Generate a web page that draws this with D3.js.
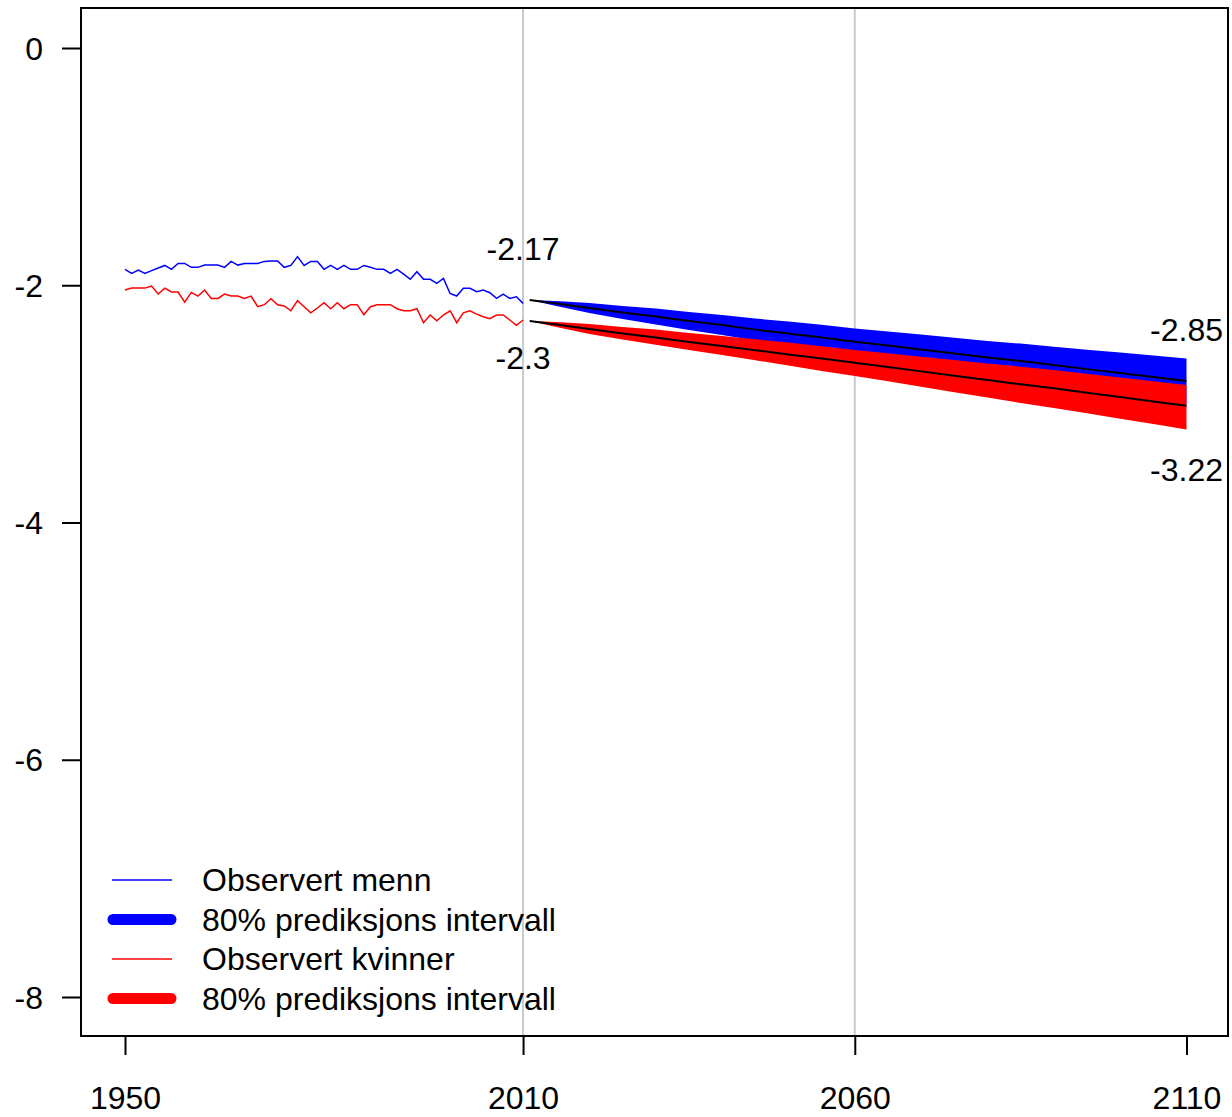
<!DOCTYPE html>
<html>
<head>
<meta charset="utf-8">
<script src="https://cdn.jsdelivr.net/npm/d3@7"></script>
<style>
  body { margin: 0; background: #fff; }
  svg text { font-family: "Liberation Sans", Arial, sans-serif; fill: #000; }
</style>
</head>
<body>
<div id="chart"></div>
<script>
// observed years 1950..2010
var obsYears = d3.range(1950, 2011);

var obsMen = [
  -1.866, -1.900, -1.872, -1.900, -1.877, -1.855, -1.833, -1.866, -1.816, -1.816,
  -1.849, -1.849, -1.830, -1.830, -1.830, -1.849, -1.799, -1.830, -1.816, -1.816,
  -1.816, -1.799, -1.796, -1.796, -1.849, -1.833, -1.759, -1.833, -1.799, -1.799,
  -1.866, -1.833, -1.866, -1.833, -1.866, -1.866, -1.833, -1.849, -1.866, -1.866,
  -1.900, -1.866, -1.906, -1.950, -1.886, -1.950, -1.950, -1.984, -1.942, -2.069,
  -2.091, -2.026, -2.026, -2.055, -2.040, -2.063, -2.111, -2.074, -2.111, -2.097,
  -2.153
];

var obsWomen = [
  -2.040, -2.024, -2.024, -2.024, -2.007, -2.074, -2.024, -2.057, -2.057, -2.142,
  -2.060, -2.091, -2.040, -2.111, -2.111, -2.074, -2.091, -2.091, -2.111, -2.091,
  -2.181, -2.164, -2.114, -2.164, -2.175, -2.215, -2.130, -2.181, -2.232, -2.192,
  -2.147, -2.198, -2.147, -2.198, -2.164, -2.164, -2.248, -2.181, -2.164, -2.164,
  -2.164, -2.198, -2.215, -2.215, -2.198, -2.316, -2.251, -2.299, -2.251, -2.215,
  -2.316, -2.232, -2.215, -2.243, -2.265, -2.282, -2.251, -2.251, -2.293, -2.338,
  -2.293
];

// forecast years
var fcYears = [2011, 2015, 2020, 2025, 2030, 2035, 2040, 2045, 2050, 2055, 2060,
  2065, 2070, 2075, 2080, 2085, 2090, 2095, 2100, 2105, 2110];

var menMedian = [-2.125, -2.154, -2.192, -2.230, -2.264, -2.302, -2.336, -2.374, -2.407, -2.441, -2.476,
  -2.508, -2.541, -2.576, -2.610, -2.639, -2.673, -2.707, -2.740, -2.774, -2.808];
var menUpper = [-2.125, -2.133, -2.150, -2.175, -2.196, -2.226, -2.251, -2.281, -2.306, -2.334, -2.364,
  -2.389, -2.416, -2.443, -2.470, -2.492, -2.518, -2.543, -2.567, -2.592, -2.617];
var menLower = [-2.125, -2.175, -2.234, -2.285, -2.331, -2.378, -2.420, -2.466, -2.508, -2.548, -2.589,
  -2.628, -2.669, -2.709, -2.750, -2.786, -2.828, -2.870, -2.913, -2.956, -2.999];

var womenMedian = [-2.302, -2.331, -2.369, -2.406, -2.441, -2.479, -2.513, -2.548, -2.583, -2.618, -2.653,
  -2.690, -2.726, -2.762, -2.799, -2.835, -2.869, -2.906, -2.943, -2.979, -3.016];
var womenUpper = [-2.302, -2.310, -2.327, -2.351, -2.374, -2.403, -2.428, -2.455, -2.483, -2.514, -2.546,
  -2.574, -2.602, -2.630, -2.659, -2.686, -2.714, -2.745, -2.777, -2.809, -2.841];
var womenLower = [-2.302, -2.352, -2.410, -2.458, -2.502, -2.546, -2.589, -2.632, -2.677, -2.722, -2.766,
  -2.810, -2.855, -2.901, -2.947, -2.992, -3.035, -3.079, -3.125, -3.169, -3.215];

var xTicks = [1950, 2010, 2060, 2110];
var yTicks = [0, -2, -4, -6, -8];
var refYears = [2010, 2060];

var annotations = [
  { year: 2010, value: -2.17, text: "-2.17", dy: -57 },
  { year: 2010, value: -2.3, text: "-2.3", dy: 37 },
  { year: 2110, value: -2.85, text: "-2.85", dy: -56 },
  { year: 2110, value: -3.22, text: "-3.22", dy: 40 }
];

var legendItems = [
  { label: "Observert menn", color: "#0000ff", width: 1.5 },
  { label: "80% prediksjons intervall", color: "#0000ff", width: 11 },
  { label: "Observert kvinner", color: "#ff0000", width: 1.5 },
  { label: "80% prediksjons intervall", color: "#ff0000", width: 11 }
];

function main() {
  var width = 1232,
    height = 1117,
    fontSize = "32px",
    box = { left: 81, right: 1228, top: 8, bottom: 1036 };

  var svg = d3.select("#chart")
    .append("svg")
    .attr("width", width)
    .attr("height", height);

  var x = d3.scaleLinear().domain([1950, 2110]).range([125, 1186.5]);
  var y = d3.scaleLinear().domain([0, -8]).range([48, 997]);

  // grey reference lines
  svg.selectAll(".ref-line")
    .data(refYears)
    .enter()
    .append("line")
    .attr("class", "ref-line")
    .attr("x1", (d) => x(d))
    .attr("x2", (d) => x(d))
    .attr("y1", box.top)
    .attr("y2", box.bottom)
    .attr("stroke", "#c4cdd1")
    .attr("stroke-width", 2);

  var line = d3.line()
    .x((d) => x(d[0]))
    .y((d) => y(d[1]));

  // observed series
  svg.append("path")
    .datum(obsYears.map((yr, i) => [yr, obsMen[i]]))
    .attr("d", line)
    .attr("fill", "none")
    .attr("stroke", "#0000ff")
    .attr("stroke-width", 1.5);

  svg.append("path")
    .datum(obsYears.map((yr, i) => [yr, obsWomen[i]]))
    .attr("d", line)
    .attr("fill", "none")
    .attr("stroke", "#ff0000")
    .attr("stroke-width", 1.5);

  // prediction bands
  var area = d3.area()
    .x((d) => x(d.year))
    .y0((d) => y(d.lo))
    .y1((d) => y(d.hi));

  var bands = [
    { color: "#0000ff", lo: menLower, hi: menUpper, med: menMedian },
    { color: "#ff0000", lo: womenLower, hi: womenUpper, med: womenMedian }
  ];

  bands.forEach(function (b) {
    svg.append("path")
      .datum(fcYears.map((yr, i) => ({ year: yr, lo: b.lo[i], hi: b.hi[i] })))
      .attr("d", area)
      .attr("fill", b.color);
  });

  bands.forEach(function (b) {
    svg.append("path")
      .datum(fcYears.map((yr, i) => [yr, b.med[i]]))
      .attr("d", line)
      .attr("fill", "none")
      .attr("stroke", "#000")
      .attr("stroke-width", 2);
  });

  // value annotations
  svg.selectAll(".annot")
    .data(annotations)
    .enter()
    .append("text")
    .attr("class", "annot")
    .attr("x", (d) => x(d.year))
    .attr("y", (d) => y(d.value) + d.dy)
    .attr("dy", "0.35em")
    .attr("text-anchor", "middle")
    .attr("font-size", fontSize)
    .text((d) => d.text);

  // axes
  var xAxis = d3.axisBottom(x).tickValues(xTicks).tickFormat((d) => String(d)).tickSize(19);
  var gx = svg.append("g")
    .attr("transform", `translate(0, ${box.bottom})`)
    .call(xAxis);
  gx.select(".domain").remove();
  gx.selectAll("line").attr("stroke", "#000").attr("stroke-width", 2);
  gx.selectAll("text")
    .attr("font-size", fontSize)
    .attr("y", 62)
    .attr("dy", "0.35em")
    .attr("font-family", "Liberation Sans, Arial, sans-serif");

  var yAxis = d3.axisLeft(y).tickValues(yTicks).tickFormat((d) => String(d)).tickSize(19);
  var gy = svg.append("g")
    .attr("transform", `translate(${box.left}, 0)`)
    .call(yAxis);
  gy.select(".domain").remove();
  gy.selectAll("line").attr("stroke", "#000").attr("stroke-width", 2);
  gy.selectAll("text")
    .attr("font-size", fontSize)
    .attr("x", -38)
    .attr("dy", "0.35em")
    .attr("font-family", "Liberation Sans, Arial, sans-serif");

  // plot box
  svg.append("rect")
    .attr("x", box.left)
    .attr("y", box.top)
    .attr("width", box.right - box.left)
    .attr("height", box.bottom - box.top)
    .attr("fill", "none")
    .attr("stroke", "#000")
    .attr("stroke-width", 2);

  // legend
  var legend = svg.append("g").attr("transform", "translate(112, 880)");
  var rows = legend.selectAll(".legend-row")
    .data(legendItems)
    .enter()
    .append("g")
    .attr("class", "legend-row")
    .attr("transform", (d, i) => `translate(0, ${i * 39.5})`);

  rows.append("line")
    .attr("x1", (d) => (d.width > 5 ? 1 : 0))
    .attr("x2", (d) => (d.width > 5 ? 59 : 60))
    .attr("y1", 0)
    .attr("y2", 0)
    .attr("stroke", (d) => d.color)
    .attr("stroke-width", (d) => d.width)
    .attr("stroke-linecap", (d) => (d.width > 5 ? "round" : "butt"));

  rows.append("text")
    .attr("x", 90)
    .attr("y", 0)
    .attr("dy", "0.35em")
    .attr("font-size", fontSize)
    .text((d) => d.label);
}

main();
</script>
</body>
</html>
